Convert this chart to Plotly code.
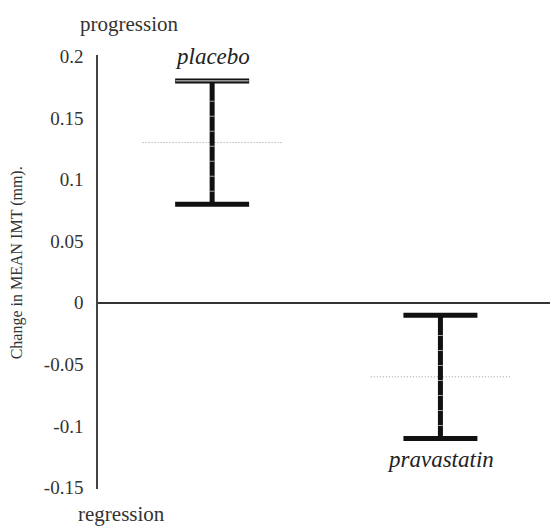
import plotly.graph_objects as go

groups = ["placebo", "pravastatin"]
group_pos = [1, 2]
means = [0.13, -0.06]
errors = [0.05, 0.05]
y_ticks = [0.2, 0.15, 0.1, 0.05, 0, -0.05, -0.1, -0.15]
y_tick_text = ["0.2", "0.15", "0.1", "0.05", "0", "-0.05", "-0.1", "-0.15"]
y_title = "Change in MEAN IMT (mm)."
top_note = "progression"
bottom_note = "regression"

serif = "Liberation Serif"
fig = go.Figure()

# mean dotted lines
for x, m in zip(group_pos, means):
    fig.add_trace(go.Scatter(x=[x - 0.305, x + 0.305], y=[m, m], mode="lines",
                             line=dict(color="#999999", width=1, dash="1px,2px"),
                             hoverinfo="skip", showlegend=False))

# error bars (range)
fig.add_trace(go.Scatter(x=group_pos, y=means, mode="markers",
                         marker=dict(size=1, color="rgba(0,0,0,0)"),
                         error_y=dict(type="data", array=errors, visible=True,
                                      color="#111", thickness=5, width=37),
                         showlegend=False, hoverinfo="skip"))

# small white gaps in the vertical bars (scan look)
for x, m, e in zip(group_pos, means, errors):
    fig.add_trace(go.Scatter(x=[x, x], y=[m - e + 0.01, m + e - 0.005], mode="lines",
                             line=dict(color="rgba(255,255,255,0.6)", width=5, dash="1px,14px"),
                             hoverinfo="skip", showlegend=False))

# placebo double cap gap
fig.add_trace(go.Scatter(x=[group_pos[0] - 0.16, group_pos[0] + 0.16],
                         y=[means[0] + errors[0], means[0] + errors[0]], mode="lines",
                         line=dict(color="rgba(255,255,255,0.9)", width=1),
                         hoverinfo="skip", showlegend=False))

# group labels
fig.add_annotation(x=group_pos[0], y=means[0] + errors[0], text="<i>" + groups[0] + "</i>",
                   showarrow=False, yanchor="bottom", yshift=10,
                   font=dict(family=serif, size=23, color="#222"))
fig.add_annotation(x=group_pos[1], y=means[1] - errors[1], text="<i>" + groups[1] + "</i>",
                   showarrow=False, yanchor="top", yshift=-7,
                   font=dict(family=serif, size=23, color="#222"))

# progression / regression notes
fig.add_annotation(xref="paper", yref="paper", x=-0.044, y=1.0, yshift=31, text=top_note,
                   showarrow=False, xanchor="left", yanchor="middle",
                   font=dict(family=serif, size=21, color="#333"))
fig.add_annotation(xref="paper", yref="paper", x=-0.049, y=0.0, yshift=-25, text=bottom_note,
                   showarrow=False, xanchor="left", yanchor="middle",
                   font=dict(family=serif, size=21, color="#333"))

# y-axis title
fig.add_annotation(xref="paper", yref="paper", x=0, xshift=-81, y=0.52, text=y_title,
                   textangle=-90, showarrow=False, xanchor="center", yanchor="middle",
                   font=dict(family=serif, size=16, color="#333"))

fig.update_layout(
    width=550, height=526,
    margin=dict(l=98, r=0, t=55, b=37),
    paper_bgcolor="white", plot_bgcolor="white",
    xaxis=dict(range=[0.5, 2.48], showgrid=False, zeroline=False, showticklabels=False,
               showline=False),
    yaxis=dict(range=[-0.151, 0.201], tickvals=y_ticks, ticktext=y_tick_text,
               showgrid=False, zeroline=True, zerolinecolor="#333", zerolinewidth=1.5,
               showline=True, linecolor="#444", linewidth=1.5, ticks="",
               ticklabelstandoff=9,
               tickfont=dict(family=serif, size=19, color="#333")),
)

fig.write_html("out.html", config={"displayModeBar": False},
               post_script="document.body.style.margin='0';document.body.style.overflow='hidden';")
